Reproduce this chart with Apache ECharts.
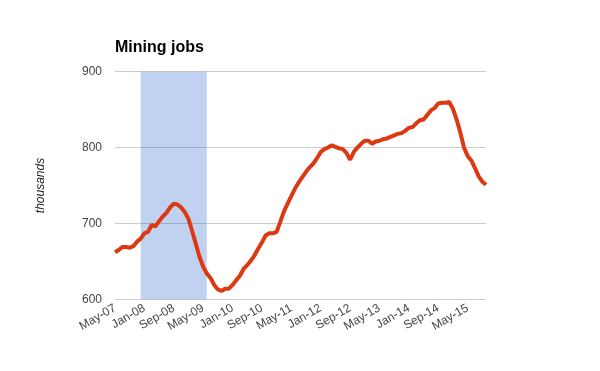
<!DOCTYPE html>
<html>
<head>
<meta charset="utf-8">
<script src="https://cdn.jsdelivr.net/npm/echarts@6/dist/echarts.min.js"></script>
<style>
html,body{margin:0;padding:0;background:#fff;}
#chart{width:600px;height:371px;}
</style>
</head>
<body>
<div id="chart"></div>
<script>
// Monthly categories May-07 .. Oct-15
var monthNames = ['Jan','Feb','Mar','Apr','May','Jun','Jul','Aug','Sep','Oct','Nov','Dec'];
var startYear = 2007, startMonth = 4, monthCount = 102;
var categories = [];
for (var k = 0; k < monthCount; k++) {
  var m = (startMonth + k) % 12;
  var y = startYear + Math.floor((startMonth + k) / 12);
  categories.push(monthNames[m] + '-' + String(y % 100).padStart(2, '0'));
}

// Mining jobs, thousands
var miningJobs = [
  662, 665, 669, 669, 668, 670, 676, 680, 687, 689,
  698, 696, 703, 709, 714, 721, 726, 725, 721, 715,
  706, 690, 673, 656, 643, 634, 628, 619, 613, 611,
  614, 614, 619, 625, 631, 640, 645, 651, 658, 667,
  675, 684, 687, 687, 689, 702, 716, 726, 736, 746,
  754, 761, 768, 774, 779, 786, 794, 798, 800, 803,
  801, 799, 798, 793, 784, 794, 800, 805, 809, 809,
  805, 808, 809, 811, 812, 814, 816, 818, 819, 822,
  826, 827, 832, 836, 837, 843, 849, 852, 858, 859,
  859, 860, 851, 837, 820, 800, 789, 783, 773, 762,
  755, 751
];

// Recession shading
var recessionStart = 'Dec-07';
var recessionEnd = 'Jun-09';

// Y axis
var yMin = 600, yMax = 900, yStep = 100;

var chart = echarts.init(document.getElementById('chart'), null, {renderer: 'canvas'});
chart.setOption({
  animation: false,
  title: {
    text: 'Mining jobs',
    left: 110,
    top: 35,
    textStyle: {fontFamily: 'Liberation Sans, Arial, sans-serif', fontSize: 16, fontWeight: 'bold', color: '#000'}
  },
  grid: {left: 115, right: 114, top: 71.7, bottom: 71.7, containLabel: false},
  xAxis: {
    type: 'category',
    data: categories,
    boundaryGap: false,
    axisLine: {show: false},
    axisTick: {show: false},
    splitLine: {show: false},
    axisLabel: {
      interval: 7,
      rotate: 30,
      margin: 8,
      color: '#444',
      fontSize: 12,
      fontFamily: 'Liberation Sans, Arial, sans-serif'
    }
  },
  yAxis: {
    type: 'value',
    min: yMin,
    max: yMax,
    interval: yStep,
    name: 'thousands',
    nameLocation: 'middle',
    nameGap: 68,
    nameTextStyle: {fontStyle: 'italic', fontSize: 12, color: '#222', fontFamily: 'Liberation Sans, Arial, sans-serif'},
    axisLine: {show: false},
    axisTick: {show: false},
    splitLine: {lineStyle: {color: '#cccccc', width: 1}},
    axisLabel: {margin: 13, color: '#444', fontSize: 12, fontFamily: 'Liberation Sans, Arial, sans-serif'}
  },
  series: [{
    type: 'line',
    data: miningJobs,
    showSymbol: false,
    symbol: 'none',
    lineStyle: {color: '#dc3912', width: 4},
    z: 3,
    markArea: {
      silent: true,
      itemStyle: {color: 'rgba(51,102,204,0.3)'},
      data: [[{xAxis: recessionStart}, {xAxis: recessionEnd}]]
    }
  }]
});
</script>
</body>
</html>
